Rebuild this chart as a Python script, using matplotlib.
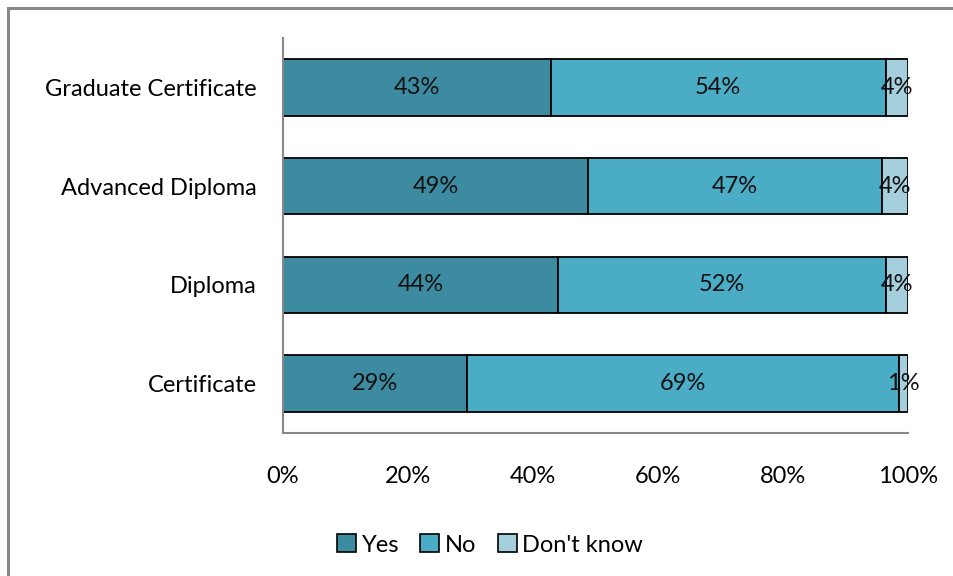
import matplotlib
matplotlib.use("Agg")
import matplotlib.pyplot as plt
from matplotlib.patches import Rectangle, Patch
import numpy as np

plt.rcParams['font.family'] = ['Lato', 'DejaVu Sans']

categories = ["Certificate", "Diploma", "Advanced Diploma", "Graduate Certificate"]
yes_vals = [29.4, 44.0, 48.8, 42.8]
no_vals = [69.2, 52.4, 47.0, 53.6]
dk_vals = [1.4, 3.6, 4.2, 3.6]
series_names = ["Yes", "No", "Don't know"]
colors = ["#3D8BA1", "#4BACC6", "#A5CFDD"]
x_ticks = [0, 20, 40, 60, 80, 100]

fig = plt.figure(figsize=(9.54, 5.76), dpi=100)
ax = fig.add_axes([283/954, 1-433/576, (908-283)/954, (433-38)/576])

# outer chart frame
fig.patches.append(Rectangle((8/954, -0.05), 1.2, 1-8/576+0.05,
                             transform=fig.transFigure, fill=False,
                             edgecolor="#888888", linewidth=2.2))

y = np.arange(len(categories))
left = np.zeros(len(categories))
for vals, name, col in zip([yes_vals, no_vals, dk_vals], series_names, colors):
    vals = np.array(vals)
    ax.barh(y, vals, left=left, height=0.57, color=col, edgecolor="black",
            linewidth=1.3, label=name)
    for yi, l, v in zip(y, left, vals):
        ax.text(l + v/2, yi, f"{v:.0f}%", ha="center", va="center",
                fontsize=17, color="#111111")
    left = left + vals

ax.set_xlim(0, 100)
ax.set_ylim(-0.5, len(categories) - 0.5)
ax.set_yticks(y)
ax.set_yticklabels(categories, fontsize=17)
ax.set_xticks(x_ticks)
ax.set_xticklabels([f"{t}%" for t in x_ticks], fontsize=17)
ax.tick_params(length=0)
ax.tick_params(axis='y', pad=19)
ax.tick_params(axis='x', pad=24)
for s in ["top", "right"]:
    ax.spines[s].set_visible(False)
for s in ["left", "bottom"]:
    ax.spines[s].set_color("#888888")
    ax.spines[s].set_linewidth(1.5)

handles = [Patch(facecolor=c, edgecolor="black", linewidth=1.2) for c in colors]
fig.legend(handles, series_names, loc="center", bbox_to_anchor=(490/954, 1-545/576),
           ncol=3, frameon=False, fontsize=17, handlelength=0.8, handleheight=0.8,
           handletextpad=0.25, columnspacing=0.9)

fig.savefig("out.png", dpi=100)
